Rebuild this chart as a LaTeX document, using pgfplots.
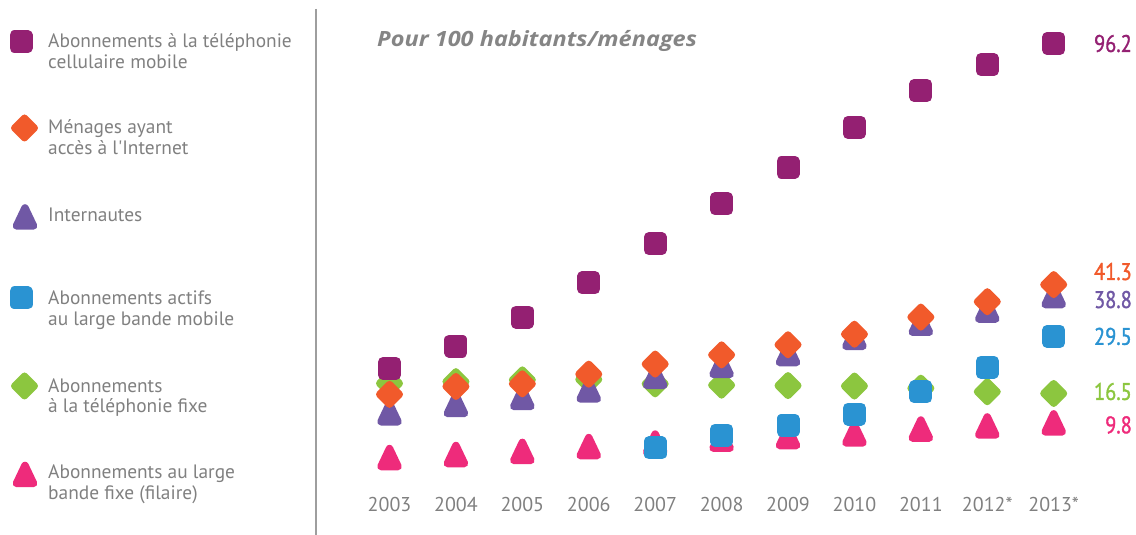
\documentclass[border=0pt]{standalone}
\usepackage{fontspec}
\setmainfont{PT Sans}
\newfontfamily\numfont[FakeStretch=0.85, FakeBold=1.3]{PT Sans}
\newfontfamily\titlefont[FakeStretch=1.12]{Open Sans}
\usepackage{pgfplots}
\pgfplotsset{compat=1.18}
\definecolor{cMob}{HTML}{942072}
\definecolor{cHou}{HTML}{F15A2B}
\definecolor{cUse}{HTML}{7058A5}
\definecolor{cMbb}{HTML}{2A93D2}
\definecolor{cFix}{HTML}{8CC63F}
\definecolor{cFbb}{HTML}{EE2B7B}
\definecolor{txtgray}{HTML}{808080}
\pgfdeclareplotmark{rsq}{%
  \pgfsetroundjoin
  \pgfpathmoveto{\pgfqpoint{-\pgfplotmarksize}{-\pgfplotmarksize}}%
  \pgfpathlineto{\pgfqpoint{\pgfplotmarksize}{-\pgfplotmarksize}}%
  \pgfpathlineto{\pgfqpoint{\pgfplotmarksize}{\pgfplotmarksize}}%
  \pgfpathlineto{\pgfqpoint{-\pgfplotmarksize}{\pgfplotmarksize}}%
  \pgfpathclose
  \pgfusepathqfillstroke}
\pgfdeclareplotmark{rdia}{%
  \pgfsetroundjoin
  \pgfpathmoveto{\pgfqpoint{0pt}{-\pgfplotmarksize}}%
  \pgfpathlineto{\pgfqpoint{\pgfplotmarksize}{0pt}}%
  \pgfpathlineto{\pgfqpoint{0pt}{\pgfplotmarksize}}%
  \pgfpathlineto{\pgfqpoint{-\pgfplotmarksize}{0pt}}%
  \pgfpathclose
  \pgfusepathqfillstroke}
\pgfdeclareplotmark{rtri}{%
  \pgfsetroundjoin
  \pgfpathmoveto{\pgfqpoint{0pt}{\pgfplotmarksize}}%
  \pgfpathlineto{\pgfqpoint{0.95\pgfplotmarksize}{-\pgfplotmarksize}}%
  \pgfpathlineto{\pgfqpoint{-0.95\pgfplotmarksize}{-\pgfplotmarksize}}%
  \pgfpathclose
  \pgfusepathqfillstroke}
\pgfplotsset{
  sq/.style={only marks, mark=rsq, mark size=6.5pt, mark options={line width=10pt, draw=#1, fill=#1}},
  dia/.style={only marks, mark=rdia, mark size=10pt, mark options={line width=7pt, draw=#1, fill=#1}},
  tri/.style={only marks, mark=rtri, mark size=9pt, mark options={line width=7.5pt, draw=#1, fill=#1}},
}
\begin{document}
\begin{tikzpicture}[x=1pt,y=1pt]
\path[use as bounding box] (0,0) rectangle (1136,535);
% separator
\draw[color=black!38, line width=2.5pt] (316,526) -- (316,0);
% legend text
\begin{scope}[every node/.style={anchor=base west, inner sep=0pt, text=txtgray, font=\fontsize{19.4}{23}\selectfont}]
\node at (48,535-48) {Abonnements à la téléphonie};
\node at (48,535-69) {cellulaire mobile};
\node at (48,535-134) {Ménages ayant};
\node at (48,535-155) {accès à l\textquotesingle Internet};
\node at (48,535-222) {Internautes};
\node at (48,535-305) {Abonnements actifs};
\node at (48,535-326) {au large bande mobile};
\node at (48,535-393) {Abonnements};
\node at (48,535-413) {à la téléphonie fixe};
\node at (48,535-479) {Abonnements au large};
\node at (48,535-500) {bande fixe (filaire)};
\end{scope}
\node[anchor=base west, inner sep=0pt, text=black!48, font=\titlefont\fontsize{21}{25}\selectfont\bfseries\itshape] at (377,535-47) {Pour 100 habitants/ménages};
% legend markers
\begin{axis}[at={(0pt,0pt)}, anchor=south west, scale only axis, width=316pt, height=535pt,
  xmin=0, xmax=316, ymin=0, ymax=535, hide axis, clip=false]
\addplot[sq=cMob] coordinates {(21,493.3)};
\addplot[dia=cHou] coordinates {(24.5,407)};
\addplot[tri=cUse] coordinates {(25,318)};
\addplot[sq=cMbb] coordinates {(21,237)};
\addplot[dia=cFix] coordinates {(24.5,149)};
\addplot[tri=cFbb] coordinates {(25,60.5)};
\end{axis}
% main chart
\begin{axis}[at={(356.3pt,69.05pt)}, anchor=south west, scale only axis,
  width=730.6pt, height=439.1pt,
  xmin=-0.5, xmax=10.5, ymin=0, ymax=100, clip=false,
  axis line style={draw=none}, tick style={draw=none}, major tick length=0pt,
  ytick=\empty, xtick={0,1,2,3,4,5,6,7,8,9,10},
  xticklabels={2003,2004,2005,2006,2007,2008,2009,2010,2011,2012*,2013*},
  xticklabel style={anchor=base, yshift=-46pt, inner sep=0pt, text=txtgray, font=\fontsize{20}{24}\selectfont},
  /pgf/number format/assume math mode=true]
% fixed telephone
\addplot[dia=cFix] coordinates {(0,18.8) (1,19.2) (2,19.6) (3,19.7) (4,18.7) (5,18.4) (6,18.3) (7,18.2) (8,17.7) (9,16.9) (10,16.5)};
% fixed broadband
\addplot[tri=cFbb] coordinates {(0,1.9) (1,2.6) (2,3.3) (3,4.4) (4,5.2) (5,6.1) (6,6.7) (7,7.3) (8,8.4) (9,9.1) (10,9.8)};
% internet users
\addplot[tri=cUse] coordinates {(0,12.1) (1,14.0) (2,15.6) (3,17.3) (4,20.4) (5,22.9) (6,25.6) (7,29.3) (8,32.5) (9,35.5) (10,38.8)};
% households with internet
\addplot[dia=cHou] coordinates {(0,16.3) (1,18.1) (2,18.7) (3,20.9) (4,23.2) (5,25.3) (6,27.6) (7,30.0) (8,33.9) (9,37.4) (10,41.3)};
% mobile broadband
\addplot[sq=cMbb] coordinates {(4,4.1) (5,7.0) (6,9.3) (7,11.8) (8,16.9) (9,22.5) (10,29.5)};
% mobile cellular
\addplot[sq=cMob] coordinates {(0,22.2) (1,27.3) (2,33.9) (3,41.7) (4,50.6) (5,59.7) (6,68.0) (7,77.1) (8,85.5) (9,91.4) (10,96.2)};
% value labels
\begin{scope}[every node/.style={anchor=east, inner sep=0pt, xshift=78.3pt, font=\fontsize{24}{28}\selectfont\numfont}]
\node[text=cMob] at (axis cs:10,96.2) {96.2};
\node[text=cHou, yshift=13pt] at (axis cs:10,41.3) {41.3};
\node[text=cUse, yshift=-4pt] at (axis cs:10,38.8) {38.8};
\node[text=cMbb] at (axis cs:10,29.5) {29.5};
\node[text=cFix, yshift=2pt] at (axis cs:10,16.5) {16.5};
\node[text=cFbb, yshift=-2pt] at (axis cs:10,9.8) {9.8};
\end{scope}
\end{axis}
\end{tikzpicture}
\end{document}
